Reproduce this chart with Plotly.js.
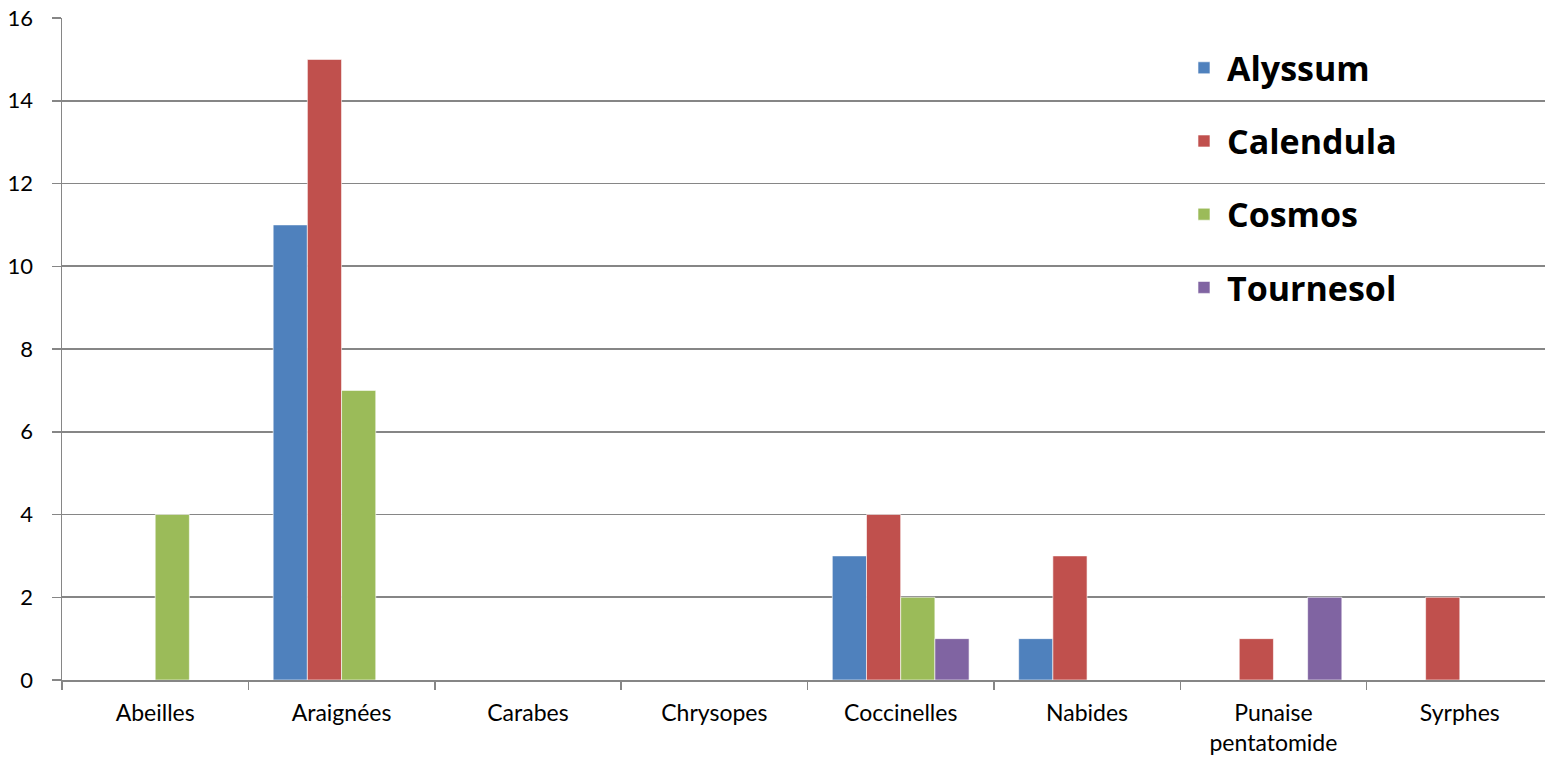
<!DOCTYPE html>
<html>
<head>
<meta charset="utf-8">
<script src="https://cdn.plot.ly/plotly-3.0.1.min.js"></script>
<style>html,body{margin:0;padding:0;background:#fff;overflow:hidden;}#chart{width:1553px;height:758px;}</style>
</head>
<body>
<div id="chart"></div>
<script>
const categories = ["Abeilles", "Araignées", "Carabes", "Chrysopes", "Coccinelles", "Nabides", "Punaise<br>pentatomide", "Syrphes"];
const seriesNames = ["Alyssum", "Calendula", "Cosmos", "Tournesol"];
const alyssum   = [0, 11, 0, 0, 3, 1, 0, 0];
const calendula = [0, 15, 0, 0, 4, 3, 1, 2];
const cosmos    = [4, 7, 0, 0, 2, 0, 0, 0];
const tournesol = [0, 0, 0, 0, 1, 0, 2, 0];
const colors = ["#4F81BD", "#C0504D", "#9BBB59", "#8064A2"];
const values = [alyssum, calendula, cosmos, tournesol];

const font = "Lato, 'Open Sans', sans-serif";
const legendFont = "'Open Sans', Lato, sans-serif";
const traces = values.map((v, i) => ({
  type: "bar",
  name: seriesNames[i],
  x: categories,
  y: v,
  legendgroup: "g" + i,
  marker: {color: colors[i], line: {color: "rgba(255,255,255,0.6)", width: 1}},
  hoverinfo: "x+y+name"
}));

const layout = {
  width: 1553, height: 758,
  margin: {l: 62, r: 0, t: 18, b: 78},
  paper_bgcolor: "#fff", plot_bgcolor: "#fff",
  barmode: "group",
  bargap: 0.266,
  bargroupgap: 0,
  font: {family: font, color: "#000"},
  xaxis: {
    type: "category",
    tickson: "boundaries",
    ticks: "outside", ticklen: 8, tickcolor: "#868686", tickwidth: 1.5,
    showline: true, linecolor: "#868686", linewidth: 1.5,
    showgrid: false,
    tickfont: {family: font, size: 23, color: "#000"},
    ticklabelstandoff: 12,
    fixedrange: true
  },
  yaxis: {
    range: [0, 16], dtick: 2, tick0: 0,
    ticks: "outside", ticklen: 9, tickcolor: "#868686", tickwidth: 1.5,
    showline: true, linecolor: "#868686", linewidth: 1.5,
    showgrid: true, gridcolor: "#868686", gridwidth: 1.8,
    zeroline: false,
    tickfont: {family: font, size: 22, color: "#000"},
    ticklabelstandoff: 14,
    fixedrange: true
  },
  showlegend: true,
  legend: {
    x: 0.7505, y: 0.968, xanchor: "left", yanchor: "top",
    bgcolor: "rgba(255,255,255,0)",
    font: {family: legendFont, size: 34, color: "#000", weight: "bold"},
    traceorder: "grouped",
    tracegroupgap: 26,
    itemwidth: 36
  }
};

Plotly.newPlot("chart", traces, layout, {displayModeBar: false, staticPlot: true});
</script>
</body>
</html>
